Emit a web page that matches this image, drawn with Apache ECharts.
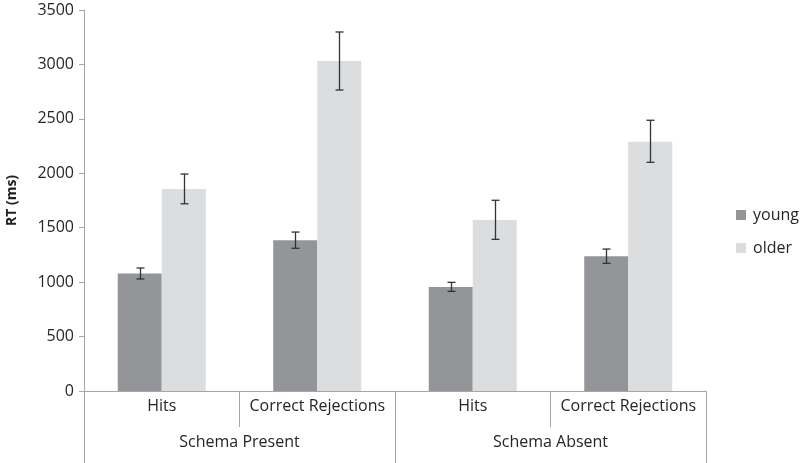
<!DOCTYPE html>
<html>
<head>
<meta charset="utf-8">
<script src="https://cdn.jsdelivr.net/npm/echarts@6/dist/echarts.min.js"></script>
<style>html,body{margin:0;padding:0;background:#fff;}#c{width:800px;height:463px;}</style>
</head>
<body>
<div id="c"></div>
<script>
const categories = ['Hits', 'Correct Rejections', 'Hits', 'Correct Rejections'];
const groups = ['Schema Present', 'Schema Absent'];
const seriesNames = ['young', 'older'];
const youngValues = [1080, 1385, 955, 1237];
const youngLow = [1029, 1311, 915, 1173];
const youngHigh = [1130, 1460, 998, 1304];
const olderValues = [1856, 3031, 1571, 2290];
const olderLow = [1720, 2765, 1393, 2101];
const olderHigh = [1993, 3298, 1752, 2487];
const yTicks = [0, 500, 1000, 1500, 2000, 2500, 3000, 3500];

const FONT = 'Open Sans';
const AXIS = '#a6a6a6';
const TXT = '#262626';
const BARW = 0.283;

function errData(low, high) {
  return low.map((l, i) => [i, l, high[i]]);
}
function errSeries(low, high, side) {
  return {
    type: 'custom',
    xAxisIndex: 0,
    z: 10,
    silent: true,
    data: errData(low, high),
    renderItem: function (params, api) {
      const i = api.value(0);
      const band = api.size([1, 0])[0];
      const off = side * band * BARW / 2;
      const p1 = api.coord([i, api.value(1)]);
      const p2 = api.coord([i, api.value(2)]);
      const x = Math.round(p1[0] + off) + 0.5;
      const cap = 4;
      const st = { stroke: '#333', lineWidth: 1.3 };
      return {
        type: 'group',
        children: [
          { type: 'line', shape: { x1: x, y1: p1[1], x2: x, y2: p2[1] }, style: st },
          { type: 'line', shape: { x1: x - cap, y1: p1[1], x2: x + cap, y2: p1[1] }, style: st },
          { type: 'line', shape: { x1: x - cap, y1: p2[1], x2: x + cap, y2: p2[1] }, style: st }
        ]
      };
    }
  };
}

const chart = echarts.init(document.getElementById('c'));
chart.setOption({
  animation: false,
  textStyle: { fontFamily: FONT },
  grid: { left: 84, right: 94, top: 10, bottom: 72, containLabel: false, outerBoundsMode: 'none' },
  legend: {
    orient: 'vertical',
    left: 736,
    top: 207,
    padding: 0,
    itemWidth: 10,
    itemHeight: 10,
    itemGap: 17,
    icon: 'rect',
    data: seriesNames,
    textStyle: { fontFamily: FONT, fontSize: 16, color: TXT, padding: [0, 0, 0, 2] }
  },
  xAxis: [
    {
      type: 'category',
      data: categories,
      position: 'bottom',
      axisLine: { show: true, lineStyle: { color: AXIS, width: 1 } },
      axisTick: { show: true, length: 36, inside: false, lineStyle: { color: AXIS } },
      axisLabel: { fontFamily: FONT, fontSize: 16, color: TXT, margin: 7, interval: 0 },
      splitLine: { show: false }
    },
    {
      type: 'category',
      data: groups,
      position: 'bottom',
      axisLine: { show: false },
      axisTick: { show: true, length: 72, lineStyle: { color: AXIS } },
      axisLabel: { fontFamily: FONT, fontSize: 16, color: TXT, margin: 43, interval: 0 },
      splitLine: { show: false }
    }
  ],
  yAxis: {
    type: 'value',
    min: yTicks[0],
    max: yTicks[yTicks.length - 1],
    interval: 500,
    name: 'RT (ms)',
    nameLocation: 'middle',
    nameGap: 65,
    nameRotate: 90,
    nameTextStyle: { fontFamily: FONT, fontSize: 14, fontWeight: 'bold', color: '#222' },
    axisLine: { show: true, lineStyle: { color: AXIS } },
    axisTick: { show: true, length: 5, lineStyle: { color: AXIS } },
    axisLabel: { fontFamily: FONT, fontSize: 16, color: TXT, margin: 10, formatter: function (v) { return String(v); } },
    splitLine: { show: false }
  },
  series: [
    {
      name: 'young', type: 'bar', xAxisIndex: 0, data: youngValues,
      barWidth: (BARW * 100) + '%', barGap: '0%',
      itemStyle: { color: '#939598' }
    },
    {
      name: 'older', type: 'bar', xAxisIndex: 0, data: olderValues,
      barWidth: (BARW * 100) + '%', barGap: '0%',
      itemStyle: { color: '#dcdddf' }
    },
    errSeries(youngLow, youngHigh, -1),
    errSeries(olderLow, olderHigh, 1)
  ]
});
</script>
</body>
</html>
